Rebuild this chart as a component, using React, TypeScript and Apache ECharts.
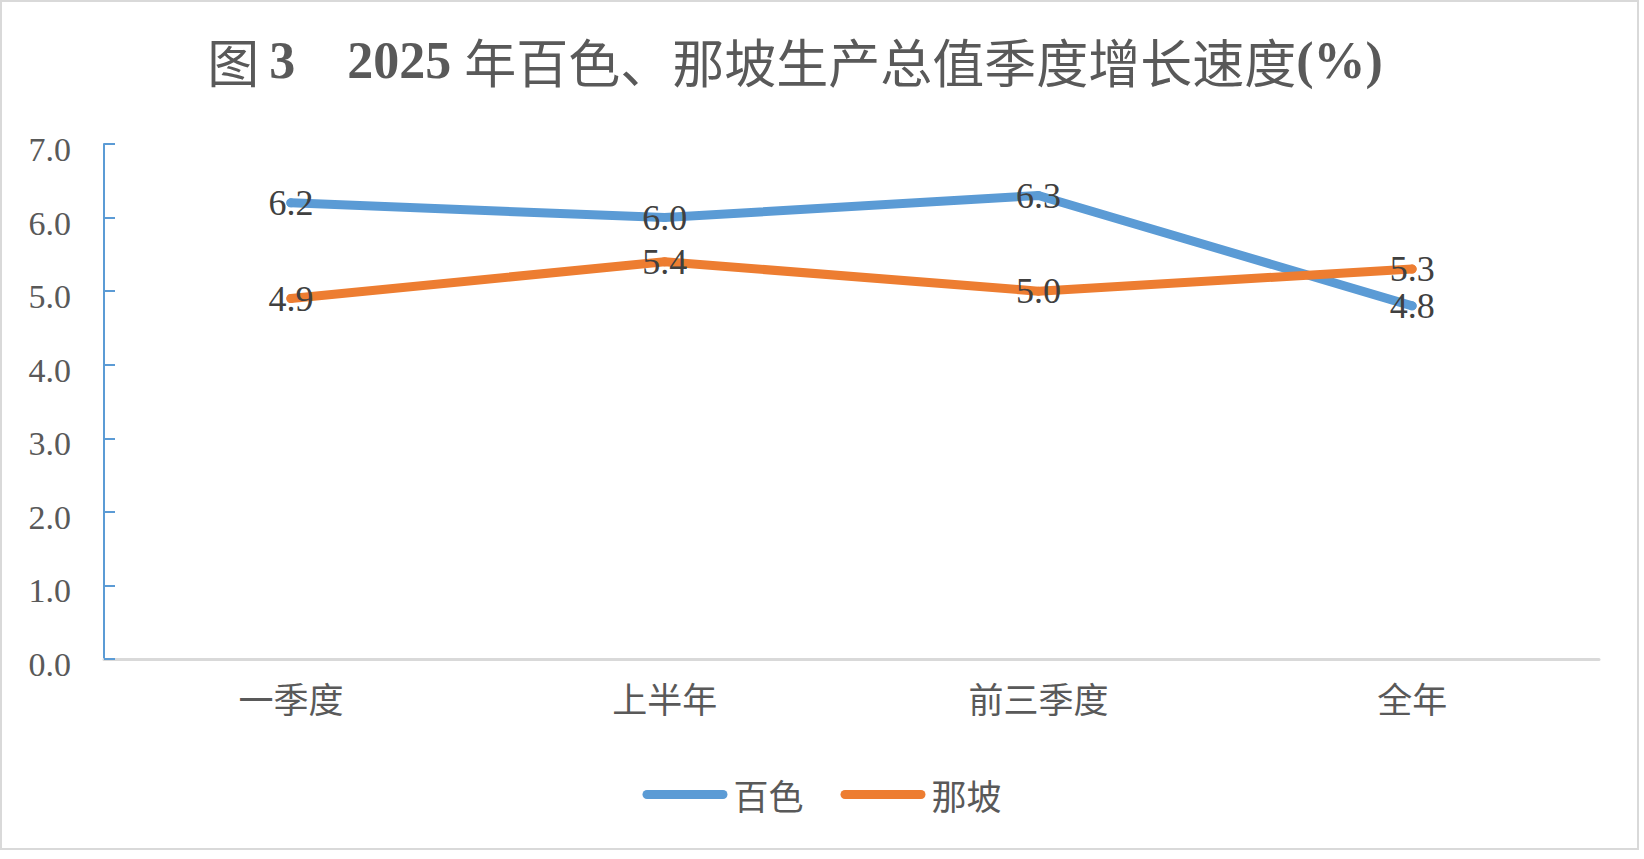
import React, { useEffect, useRef } from "react";
import * as echarts from "echarts";

const categories = ["一季度", "上半年", "前三季度", "全年"];
const baiseValues = [6.2, 6.0, 6.3, 4.8];
const napoValues = [4.9, 5.4, 5.0, 5.3];
const seriesNames = ["百色", "那坡"];
const yTicks = { min: 0, max: 7, interval: 1 };

const SERIF = "'Liberation Serif', 'Times New Roman', 'Noto Sans CJK SC', serif";
const CJK = "'Noto Sans CJK SC', 'Liberation Serif', sans-serif";
const BLUE = "#5B9BD5";
const ORANGE = "#ED7D31";
const GREY_TEXT = "#595959";

export default function App() {
  const ref = useRef<HTMLDivElement>(null);

  useEffect(() => {
    document.body.style.margin = "0";
    const chart = echarts.init(ref.current!, null, { renderer: "svg" });
    const labelStyle = {
      show: true,
      position: "inside" as const,
      color: "#404040",
      fontSize: 36,
      fontFamily: SERIF,
    };
    chart.setOption({
      animation: false,
      backgroundColor: "#ffffff",
      graphic: [
        {
          type: "rect",
          shape: { x: 1, y: 1, width: 1637, height: 848 },
          style: { fill: "none", stroke: "#d9d9d9", lineWidth: 2 },
          silent: true,
        },
        {
          type: "text",
          x: 795,
          y: 60,
          style: {
            text: "{a|图}{c|3    2025 }{a|年百色、那坡生产总值季度增长速度}{b|(%)}",
            align: "center",
            verticalAlign: "middle",
            fill: GREY_TEXT,
            rich: {
              a: { fontFamily: CJK, fontSize: 52, fill: GREY_TEXT, color: GREY_TEXT },
              b: {
                fontFamily: SERIF,
                fontSize: 52,
                fontWeight: "bold",
                fill: GREY_TEXT,
                color: GREY_TEXT,
              },
              c: {
                fontFamily: SERIF,
                fontSize: 52,
                fontWeight: "bold",
                fill: GREY_TEXT,
                color: GREY_TEXT,
                padding: [0, 0, 0, 10],
              },
            },
          },
        },
      ],
      legend: {
        data: seriesNames,
        left: "center",
        top: 772,
        itemWidth: 85,
        itemHeight: 9,
        itemGap: 37,
        icon: "path://M4.5,0 H80.5 A4.5,4.5 0 0 1 80.5,9 H4.5 A4.5,4.5 0 0 1 4.5,0 Z",
        textStyle: { color: GREY_TEXT, fontSize: 35, fontFamily: CJK, padding: [0, 0, 0, 1] },
      },
      grid: { left: 104, right: 45, top: 144, bottom: 200, containLabel: false },
      xAxis: {
        type: "category",
        data: categories,
        boundaryGap: true,
        axisLine: { show: true, lineStyle: { color: "#d9d9d9", width: 3 } },
        axisTick: { show: false },
        axisLabel: { color: GREY_TEXT, fontSize: 35, fontFamily: CJK, margin: 21 },
        splitLine: { show: false },
      },
      yAxis: {
        type: "value",
        min: yTicks.min,
        max: yTicks.max,
        interval: yTicks.interval,
        axisLine: { show: true, lineStyle: { color: BLUE, width: 2 } },
        axisTick: { show: true, inside: true, length: 11, lineStyle: { color: BLUE, width: 2 } },
        axisLabel: {
          color: GREY_TEXT,
          fontSize: 34,
          fontFamily: SERIF,
          margin: 33,
          formatter: (v: number) => "{v|" + v.toFixed(1) + "}",
          rich: {
            v: {
              color: GREY_TEXT,
              fontSize: 34,
              fontFamily: SERIF,
              padding: [11, 0, 0, 0],
            },
          },
        },
        splitLine: { show: false },
      },
      series: [
        {
          name: seriesNames[0],
          type: "line",
          data: baiseValues,
          symbol: "circle",
          symbolSize: 9,
          itemStyle: { color: BLUE },
          lineStyle: { color: BLUE, width: 9, cap: "round", join: "round" },
          label: { ...labelStyle, formatter: (p: any) => Number(p.value).toFixed(1) },
          z: 2,
        },
        {
          name: seriesNames[1],
          type: "line",
          data: napoValues,
          symbol: "circle",
          symbolSize: 9,
          itemStyle: { color: ORANGE },
          lineStyle: { color: ORANGE, width: 9, cap: "round", join: "round" },
          label: { ...labelStyle, formatter: (p: any) => Number(p.value).toFixed(1) },
          z: 3,
        },
      ],
    });
    return () => chart.dispose();
  }, []);

  return <div ref={ref} style={{ width: 1644, height: 859 }} />;
}
